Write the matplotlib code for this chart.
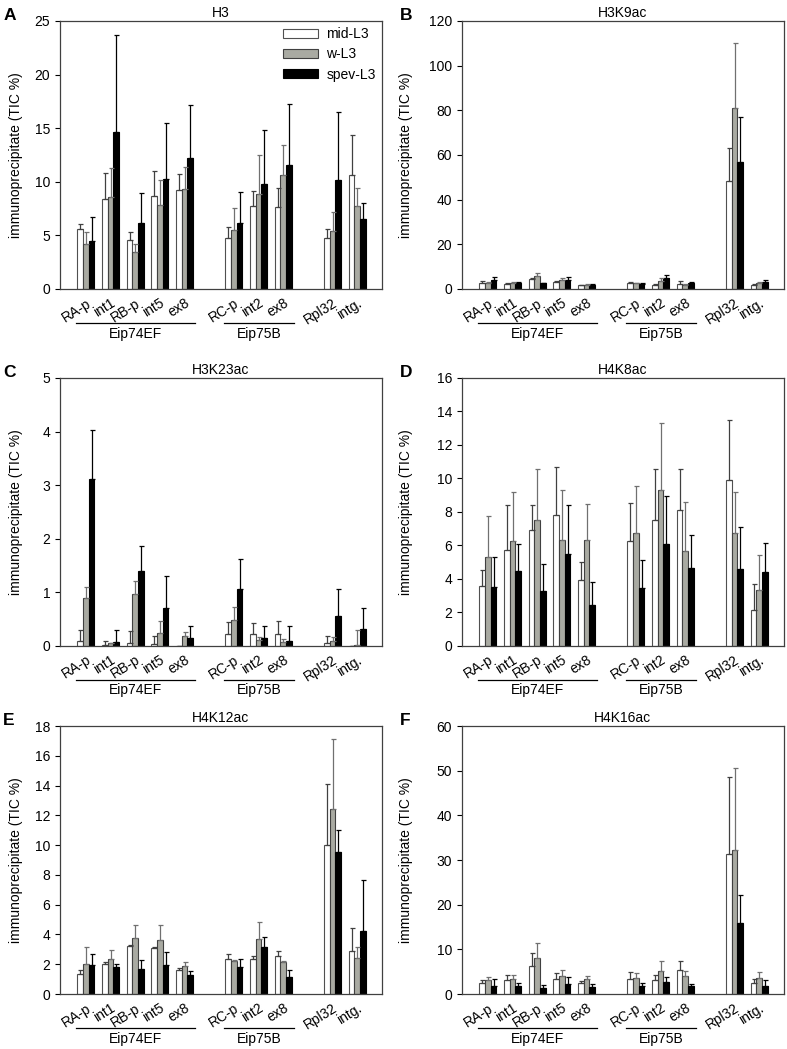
import numpy as np
import matplotlib.pyplot as plt
from matplotlib import transforms

plt.rcParams['font.family'] = ['Liberation Sans', 'DejaVu Sans']

sites = ['RA-p', 'int1', 'RB-p', 'int5', 'ex8', 'RC-p', 'int2', 'ex8', 'Rpl32', 'intg.']
xpos = np.array([0, 1, 2, 3, 4, 6, 7, 8, 10, 11])
stages = ['mid-L3', 'w-L3', 'spev-L3']

# H3
h3_mid = [5.6, 8.4, 4.6, 8.63, 9.2, 4.8, 7.7, 7.67, 4.8, 10.6]
h3_mid_err = [0.45, 2.4, 0.68, 2.37, 1.5, 1.0, 1.4, 1.73, 0.8, 3.75]
h3_w = [4.2, 8.57, 3.45, 7.8, 9.3, 5.47, 8.9, 10.6, 5.4, 7.7]
h3_w_err = [1.1, 2.73, 0.71, 2.35, 2.1, 2.13, 3.6, 2.8, 1.8, 1.7]
h3_spev = [4.47, 14.66, 6.2, 10.3, 12.2, 6.2, 9.8, 11.6, 10.2, 6.5]
h3_spev_err = [2.23, 9.04, 2.8, 5.2, 5.0, 2.84, 5.0, 5.7, 6.3, 1.5]

# H3K9ac
k9_mid = [2.5, 2.4, 4.3, 3.0, 1.6, 2.8, 1.8, 2.4, 48.4, 1.8]
k9_mid_err = [0.9, 0.3, 0.5, 0.4, 0.3, 0.5, 0.4, 1.0, 14.9, 0.3]
k9_w = [2.7, 2.7, 6.0, 4.2, 1.9, 2.5, 3.7, 1.9, 81.2, 2.7]
k9_w_err = [0.6, 0.3, 1.2, 0.7, 0.3, 0.3, 1.1, 0.3, 29.0, 0.4]
k9_spev = [4.2, 2.7, 2.7, 4.2, 1.8, 2.4, 4.8, 2.7, 56.9, 3.0]
k9_spev_err = [1.0, 0.4, 0.2, 1.2, 0.3, 0.3, 1.5, 0.3, 20.0, 1.2]

# H3K23ac
k23_mid = [0.09, 0.02, 0.05, 0.04, 0.0, 0.22, 0.22, 0.22, 0.06, 0.0]
k23_mid_err = [0.21, 0.07, 0.23, 0.14, 0.0, 0.23, 0.21, 0.25, 0.13, 0.0]
k23_w = [0.89, 0.06, 0.97, 0.25, 0.19, 0.48, 0.11, 0.07, 0.09, 0.01]
k23_w_err = [0.21, 0.0, 0.24, 0.21, 0.08, 0.24, 0.05, 0.06, 0.07, 0.29]
k23_spev = [3.12, 0.07, 1.39, 0.7, 0.14, 1.06, 0.14, 0.1, 0.55, 0.32]
k23_spev_err = [0.91, 0.22, 0.47, 0.6, 0.23, 0.57, 0.23, 0.27, 0.51, 0.38]

# H4K8ac
k8_mid = [3.59, 5.72, 6.93, 7.8, 3.94, 6.25, 7.53, 8.13, 9.9, 2.13]
k8_mid_err = [0.95, 2.68, 1.5, 2.86, 1.06, 2.28, 3.01, 2.45, 3.6, 1.56]
k8_w = [5.32, 6.25, 7.51, 6.31, 6.31, 6.77, 9.3, 5.68, 6.75, 3.35]
k8_w_err = [2.41, 2.95, 3.05, 2.99, 2.14, 2.79, 4.0, 2.91, 2.47, 2.11]
k8_spev = [3.53, 4.48, 3.29, 5.52, 2.43, 3.49, 6.08, 4.66, 4.62, 4.44]
k8_spev_err = [1.77, 1.62, 1.61, 2.91, 1.37, 1.63, 2.9, 1.94, 2.49, 1.72]

# H4K12ac
k12_mid = [1.32, 2.02, 3.23, 3.1, 1.64, 2.33, 2.38, 2.54, 10.0, 2.92]
k12_mid_err = [0.28, 0.11, 0.05, 0.09, 0.13, 0.39, 0.2, 0.38, 4.09, 1.5]
k12_w = [2.04, 2.33, 3.73, 3.66, 1.86, 2.22, 3.68, 2.18, 12.45, 2.42]
k12_w_err = [1.1, 0.65, 0.89, 0.96, 0.32, 0.09, 1.19, 0.04, 4.65, 0.72]
k12_spev = [1.97, 1.84, 1.68, 1.93, 1.3, 1.8, 3.19, 1.14, 9.56, 4.26]
k12_spev_err = [0.7, 0.2, 0.61, 0.87, 0.23, 0.53, 0.67, 0.5, 1.48, 3.37]

# H4K16ac
k16_mid = [2.48, 3.08, 6.3, 3.3, 2.4, 3.38, 3.08, 5.33, 31.4, 2.48]
k16_mid_err = [0.67, 1.27, 2.78, 1.43, 0.6, 1.5, 1.12, 2.17, 17.2, 0.82]
k16_w = [3.08, 3.3, 8.0, 4.13, 3.3, 3.68, 5.1, 3.98, 32.3, 3.6]
k16_w_err = [0.82, 1.05, 3.4, 1.2, 0.75, 1.12, 2.4, 1.12, 18.3, 1.28]
k16_spev = [1.8, 1.8, 1.43, 2.33, 1.58, 1.8, 2.7, 1.8, 15.8, 1.8]
k16_spev_err = [1.65, 0.68, 0.67, 1.42, 0.6, 0.6, 1.13, 0.45, 6.4, 1.28]

panels = [
    ('A', 'H3', (h3_mid, h3_w, h3_spev), (h3_mid_err, h3_w_err, h3_spev_err), 25, 5),
    ('B', 'H3K9ac', (k9_mid, k9_w, k9_spev), (k9_mid_err, k9_w_err, k9_spev_err), 120, 20),
    ('C', 'H3K23ac', (k23_mid, k23_w, k23_spev), (k23_mid_err, k23_w_err, k23_spev_err), 5, 1),
    ('D', 'H4K8ac', (k8_mid, k8_w, k8_spev), (k8_mid_err, k8_w_err, k8_spev_err), 16, 2),
    ('E', 'H4K12ac', (k12_mid, k12_w, k12_spev), (k12_mid_err, k12_w_err, k12_spev_err), 18, 2),
    ('F', 'H4K16ac', (k16_mid, k16_w, k16_spev), (k16_mid_err, k16_w_err, k16_spev_err), 60, 10),
]

genes = [('Eip74EF', -0.42, 4.42), ('Eip75B', 5.6, 8.45)]

face = ['white', '#a9aaa2', 'black']
edge = ['#505050', '#404040', 'black']
ecol = ['#404040', '#707070', 'black']
w = 0.23

fig = plt.figure(figsize=(7.87, 10.49), dpi=100)
lefts = [0.0762, 0.587]
letter_x = [0.004, 0.508]
ylab_x = [-0.115, -0.153]
bottoms = [0.7245, 0.3842, 0.0524]
aw, ah = 0.409, 0.2555

for i, (letter, title, vals, errs, ymax, step) in enumerate(panels):
    col, row = i % 2, i // 2
    ax = fig.add_axes([lefts[col], bottoms[row], aw, ah])
    for k in range(3):
        xs = xpos + (k - 1) * w
        ax.bar(xs, vals[k], width=w, color=face[k], edgecolor=edge[k],
               linewidth=0.8, label=stages[k], zorder=2)
        ax.errorbar(xs, vals[k], yerr=[np.zeros(len(xs)), errs[k]], fmt='none',
                    ecolor=ecol[k], elinewidth=0.9, capsize=1.8, capthick=0.9, zorder=3)
    ax.set_xlim(-1.05, 12)
    ax.set_ylim(0, ymax)
    ax.set_yticks(np.arange(0, ymax + step / 2, step))
    ax.set_xticks(xpos)
    ax.set_xticklabels(sites, rotation=32, ha='right', rotation_mode='anchor', fontsize=10)
    ax.tick_params(axis='x', length=0, pad=5)
    ax.tick_params(axis='y', length=3.5, labelsize=10)
    for s in ax.spines.values():
        s.set_color('#404040')
        s.set_linewidth(0.9)
    ax.set_title(title, fontsize=10, pad=3)
    ax.set_ylabel('immunoprecipitate (TIC %)', fontsize=10)
    ax.yaxis.set_label_coords(ylab_x[col], 0.5)
    trans = transforms.blended_transform_factory(ax.transData, ax.transAxes)
    for name, x0, x1 in genes:
        ax.plot([x0, x1], [-0.127, -0.127], color='black', lw=0.9,
                transform=trans, clip_on=False)
        ax.text((x0 + x1) / 2, -0.14, name, transform=trans, ha='center',
                va='top', fontsize=10)
    fig.text(letter_x[col], bottoms[row] + ah + 0.0055, letter,
             fontsize=12.5, fontweight='bold', va='center')
    if letter == 'A':
        ax.legend(loc='upper right', bbox_to_anchor=(1.0, 1.0), frameon=False,
                  fontsize=10, handlelength=2.5, handleheight=0.6,
                  labelspacing=0.45, borderaxespad=0.05, handletextpad=0.6)

fig.savefig('out.png', dpi=100)
